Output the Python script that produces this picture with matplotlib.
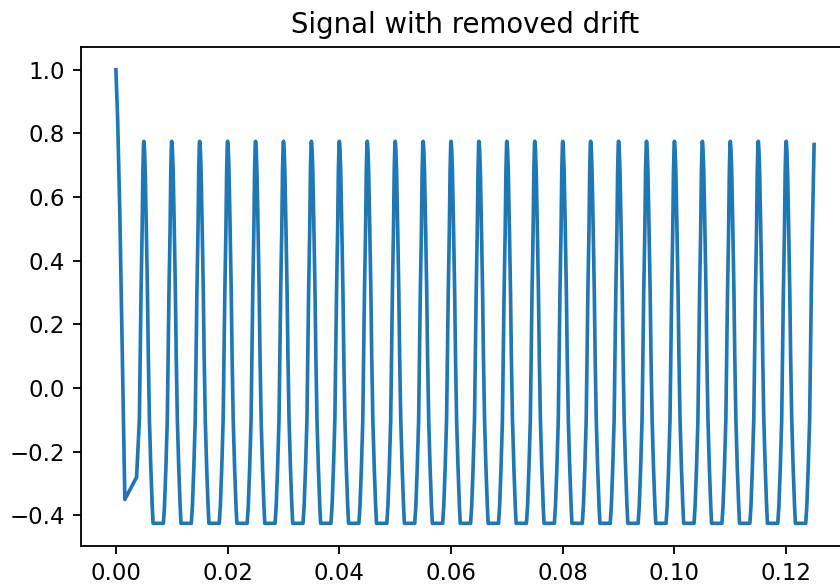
import matplotlib
matplotlib.use('Agg')
import matplotlib.pyplot as plt

# start of the recording: sharp drop from 1.0, then a short slow rise
start_t = [0.0, 0.0003, 0.0007, 0.0016, 0.0037]
start_v = [1.0, 0.85, 0.55, -0.35, -0.28]

# one period of the steady signal, read from peak to just before next peak
period = 0.005
cycle_phase = [0.00, 0.01, 0.025, 0.05, 0.09, 0.13, 0.16, 0.20, 0.25, 0.30, 0.33,
               0.70, 0.74, 0.79, 0.84, 0.87, 0.90, 0.94, 0.965, 0.99]
cycle_value = [0.775, 0.77, 0.745, 0.68, 0.50, 0.30, 0.10, -0.10, -0.25, -0.37, -0.425,
               -0.425, -0.37, -0.25, -0.10, 0.10, 0.30, 0.50, 0.68, 0.77]
peak_times = [0.005 * (k + 1) for k in range(24)]  # 0.005 ... 0.120

# last sample, just short of the next peak
end_t = 0.125
end_v = 0.765

# build the series
t = list(start_t)
v = list(start_v)
# rise into first peak
for p, val in zip(cycle_phase, cycle_value):
    if p > 0.8:
        t.append(peak_times[0] - period + p * period)
        v.append(val)
for i, pk in enumerate(peak_times):
    last = i == len(peak_times) - 1
    for p, val in zip(cycle_phase, cycle_value):
        if last and p > 0.95:
            continue
        t.append(pk + p * period)
        v.append(val)
t.append(end_t)
v.append(end_v)

dpi = 165
fig = plt.figure(figsize=(840 / dpi, 584 / dpi), dpi=dpi)
# right spine lies just past the picture (reference is cropped)
ax = fig.add_axes([81 / 840, 38 / 584, (849 - 81) / 840, (546 - 47) / 584])
ax.plot(t, v, lw=1.6)
ax.set_title("Signal with removed drift")

fig.savefig('out.png', dpi=dpi)
